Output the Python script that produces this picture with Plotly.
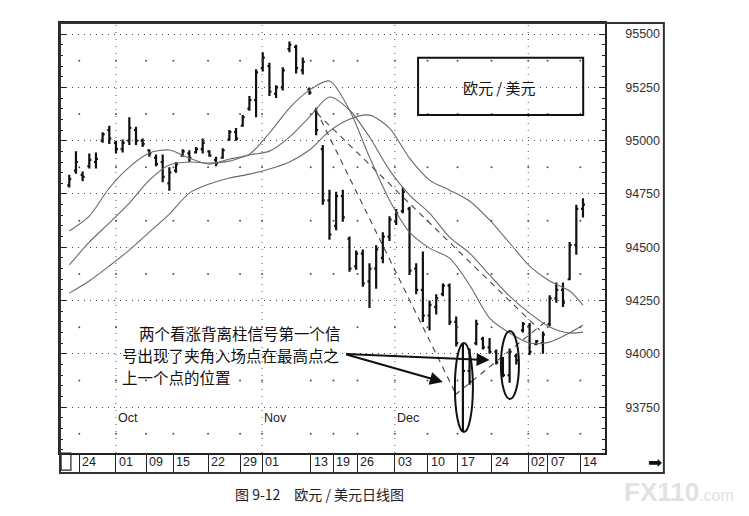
import plotly.graph_objects as go

# ---------------- data ----------------
bar_index = list(range(78))
high = [94840, 94950, 94855, 94940, 94945, 95040, 95070, 95000, 95005, 95110,
        95065, 95010, 94960, 94935, 94935, 94875, 94900, 94960, 94955, 94970,
        95010, 94955, 94925, 94965, 95050, 95060, 95120, 95210, 95335, 95415,
        95365, 95260, 95345, 95465, 95450, 95390, 95250, 95155, 94980, 94770,
        94760, 94770, 94550, 94485, 94490, 94425, 94510, 94570, 94645, 94680,
        94780, 94690, 94425, 94480, 94250, 94280, 94330, 94330, 94175, 94050,
        94025, 94160, 94080, 94075, 94020, 93985, 94025, 94000, 94150, 94145,
        94065, 94105, 94275, 94335, 94335, 94525, 94700, 94730]
low = [94780, 94845, 94810, 94870, 94870, 94990, 94985, 94940, 94945, 94980,
       94980, 94970, 94925, 94880, 94805, 94765, 94850, 94925, 94900, 94940,
       94940, 94925, 94880, 94915, 95000, 95000, 95065, 95140, 95110, 95325,
       95210, 95200, 95235, 95415, 95315, 95310, 95215, 95025, 94700, 94535,
       94580, 94620, 94385, 94395, 94315, 94215, 94305, 94425, 94530, 94605,
       94660, 94370, 94280, 94150, 94110, 94185, 94270, 94135, 94035, 93635,
       93855, 94040, 94020, 94000, 93950, 93890, 93865, 93950, 94100, 93995,
       94040, 94000, 94130, 94240, 94220, 94345, 94465, 94640]
open_ = [94790, 94860, 94840, 94880, 94900, 95000, 95050, 94990, 94960, 95000,
         95050, 95000, 94955, 94920, 94900, 94800, 94860, 94930, 94940, 94945,
         94960, 94950, 94910, 94920, 95005, 95040, 95070, 95150, 95190, 95340,
         95350, 95220, 95250, 95430, 95440, 95330, 95240, 95140, 94960, 94720,
         94600, 94740, 94540, 94410, 94470, 94340, 94400, 94450, 94550, 94620,
         94670, 94680, 94400, 94300, 94180, 94220, 94280, 94320, 94150, 94040,
         93920, 94050, 94070, 94030, 94010, 93960, 93900, 93990, 94110, 94130,
         94045, 94050, 94140, 94260, 94300, 94350, 94510, 94680]
close = [94820, 94900, 94830, 94910, 94915, 95030, 95010, 94960, 94990, 95060,
         95000, 94985, 94940, 94890, 94830, 94850, 94890, 94950, 94920, 94960,
         94990, 94930, 94895, 94955, 95040, 95010, 95110, 95190, 95320, 95390,
         95230, 95250, 95330, 95450, 95340, 95370, 95225, 95050, 94720, 94560,
         94740, 94640, 94400, 94470, 94330, 94400, 94490, 94550, 94630, 94660,
         94760, 94390, 94300, 94180, 94230, 94260, 94320, 94150, 94050, 93920,
         93870, 94140, 94030, 94010, 93960, 93900, 94010, 93970, 94140, 94010,
         94060, 94090, 94260, 94300, 94240, 94510, 94680, 94700]

ma_index = [0, 3, 6, 9, 12, 15, 18, 21, 24, 27, 30, 33, 36, 39, 42, 45, 48, 51,
            54, 57, 60, 63, 66, 69, 72, 75, 77]
ma_fast = [94576, 94646, 94778, 94876, 94942, 94956, 94918, 94890, 94914, 94937,
           95036, 95153, 95237, 95280, 95144, 94923, 94721, 94571, 94496, 94449,
           94323, 94168, 94098, 94051, 94055, 94098, 94135]
ma_mid = [94417, 94524, 94614, 94707, 94815, 94886, 94900, 94895, 94904, 94933,
          94951, 95017, 95111, 95205, 95144, 95017, 94862, 94745, 94660, 94548,
          94473, 94370, 94271, 94191, 94126, 94098, 94102]
ma_slow = [94285, 94342, 94412, 94487, 94571, 94656, 94754, 94797, 94825, 94843,
           94867, 94900, 94956, 95045, 95101, 95120, 95059, 94918, 94815, 94768,
           94717, 94628, 94520, 94412, 94342, 94295, 94229]

trend_down_steep_x = [37, 57.8]
trend_down_steep_y = [95144, 93821]
trend_down_flat_x = [37.1, 70.5]
trend_down_flat_y = [95129, 94112]
trend_up_x = [57.8, 71.3]
trend_up_y = [93807, 94149]

date_tick_pos = [1.5, 7, 11.5, 15.6, 20.8, 25.6, 28.9, 36.2, 39.6, 43.2, 48.8,
                 53.7, 58.2, 63.3, 68.8, 71.7, 76.6]
date_tick_text = ["24", "01", "09", "15", "22", "29", "01", "13", "19", "26",
                  "03", "10", "17", "24", "02", "07", "14"]
month_pos = [7, 28.9, 48.8, 68.8]
month_text = ["Oct", "Nov", "Dec", ""]
price_ticks = [93750, 94000, 94250, 94500, 94750, 95000, 95250, 95500]
price_tick_text = ["93750", "94000", "94250", "94500", "94750", "95000", "95250", "95500"]
price_mid_levels = [93625, 93875, 94125, 94375, 94625, 94875, 95125, 95375]

title_text = "欧元 / 美元"
note_lines = ["两个看涨背离柱信号第一个信", "号出现了夹角入场点在最高点之", "上一个点的位置"]
caption = "图 9-12　欧元 / 美元日线图"

# ---------------- figure ----------------
fig = go.Figure()

dot_x, dot_y = [], []
for p in price_mid_levels:
    for t in date_tick_pos:
        dot_x.append(t)
        dot_y.append(p)
fig.add_trace(go.Scatter(x=dot_x, y=dot_y, mode="markers",
                         marker=dict(size=2, color="#555"), hoverinfo="skip"))

ma_color = "#6a6a6a"
for series in (ma_slow, ma_mid, ma_fast):
    fig.add_trace(go.Scatter(x=ma_index, y=series, mode="lines",
                             line=dict(color=ma_color, width=1.1, shape="spline", smoothing=0.8),
                             hoverinfo="skip"))

for tx, ty in ((trend_down_steep_x, trend_down_steep_y),
               (trend_down_flat_x, trend_down_flat_y),
               (trend_up_x, trend_up_y)):
    fig.add_trace(go.Scatter(x=tx, y=ty, mode="lines",
                             line=dict(color="#444", width=1.1, dash="6px,5px"),
                             hoverinfo="skip"))

fig.add_trace(go.Ohlc(x=bar_index, open=open_, high=high, low=low, close=close,
                      increasing=dict(line=dict(color="#111", width=2.2)),
                      decreasing=dict(line=dict(color="#111", width=2.2)),
                      tickwidth=0.3, hoverinfo="skip"))

shapes = []
for m in month_pos:
    shapes.append(dict(type="line", xref="x", yref="paper", x0=m, x1=m, y0=0, y1=1,
                       line=dict(color="#555", width=1, dash="1px,6px"), layer="below"))
shapes.append(dict(type="circle", xref="x", yref="y", x0=57.8, x1=60.5, y0=93633, y1=94051,
                   line=dict(color="#111", width=2)))
shapes.append(dict(type="circle", xref="x", yref="y", x0=64.7, x1=67.4, y0=93788, y1=94107,
                   line=dict(color="#111", width=2)))
shapes.append(dict(type="rect", xref="paper", yref="paper", x0=0.657, x1=0.960, y0=0.786, y1=0.919,
                   line=dict(color="#111", width=2)))
shapes.append(dict(type="rect", xref="paper", yref="paper", x0=0, x1=1.108, y0=-0.0465, y1=1.0,
                   line=dict(color="#333", width=2)))
shapes.append(dict(type="rect", xref="paper", yref="paper", x0=0.002, x1=0.02, y0=-0.04, y1=0,
                   line=dict(color="#222", width=1.2)))

annotations = []
for pos, txt in zip(date_tick_pos, date_tick_text):
    annotations.append(dict(x=pos, y=-0.021, xref="x", yref="paper", text=txt, showarrow=False,
                            xanchor="left", yanchor="middle", xshift=1,
                            font=dict(family="Liberation Sans, Arial", size=12.5, color="#222")))
for pos, txt in zip(month_pos, month_text):
    if txt:
        annotations.append(dict(x=pos, y=0.081, xref="x", yref="paper", text=txt, showarrow=False,
                                xanchor="left", yanchor="middle", xshift=0,
                                font=dict(family="Liberation Sans, Arial", size=12.5, color="#222")))
annotations.append(dict(x=0.807, y=0.849, xref="paper", yref="paper", text=title_text, showarrow=False,
                        xanchor="center", yanchor="middle",
                        font=dict(family="Noto Sans CJK SC", size=15, color="#111")))
note_pos = [(0.1413, 0.279), (0.110, 0.228), (0.110, 0.177)]
for (nx, ny), line in zip(note_pos, note_lines):
    annotations.append(dict(x=nx, y=ny, xref="paper", yref="paper", text=line, showarrow=False,
                            xanchor="left", yanchor="middle",
                            font=dict(family="Noto Sans CJK SC", size=15.5, color="#111")))
annotations.append(dict(x=63.0, y=93971, xref="x", yref="y", text="", showarrow=True,
                        ax=-145, ay=-6, arrowhead=2, arrowsize=1.3, arrowwidth=2, arrowcolor="#111"))
annotations.append(dict(x=56.0, y=93868, xref="x", yref="y", text="", showarrow=True,
                        ax=-98, ay=-28, arrowhead=2, arrowsize=1.3, arrowwidth=2, arrowcolor="#111"))
annotations.append(dict(x=1.092, y=-0.021, xref="paper", yref="paper", text="➡", showarrow=False,
                        xanchor="center", yanchor="middle",
                        font=dict(family="DejaVu Sans", size=17, color="#111")))
annotations.append(dict(x=0.477, y=-0.0953, xref="paper", yref="paper", text=caption, showarrow=False,
                        xanchor="center", yanchor="middle",
                        font=dict(family="Noto Sans CJK SC", size=14, color="#222")))
annotations.append(dict(x=1.031, y=-0.0907, xref="paper", yref="paper", xanchor="left", yanchor="middle",
                        text="<b>FX110</b><span style='font-size:16px'>.com</span>", showarrow=False,
                        font=dict(family="Liberation Sans, Arial", size=26, color="#e2e2e2")))

# the page body has an 8px margin, so the figure is offset by 8px
fig.update_layout(
    width=741, height=508,
    margin=dict(l=52, r=144, t=15, b=63),
    paper_bgcolor="white", plot_bgcolor="white",
    showlegend=False,
    shapes=shapes, annotations=annotations,
    xaxis=dict(range=[-1.39, 80.3], showgrid=False, zeroline=False,
               showline=True, linecolor="#222", linewidth=1.5, mirror=True,
               tickmode="array", tickvals=date_tick_pos, ticktext=[""] * len(date_tick_pos),
               ticks="outside", ticklen=18, tickwidth=1, tickcolor="#222",
               showticklabels=False, rangeslider=dict(visible=False), fixedrange=True),
    yaxis=dict(range=[93535, 95552], side="right", zeroline=False,
               tickmode="array", tickvals=price_ticks, ticktext=price_tick_text,
               showgrid=True, gridcolor="#444", gridwidth=1, griddash="1px,5px",
               showline=True, linecolor="#222", linewidth=1.5, mirror="ticks",
               ticks="inside", ticklen=6, tickwidth=1, tickcolor="#222",
               minor=dict(dtick=50, ticks="inside", ticklen=3, tickwidth=1, tickcolor="#222", showgrid=False),
               ticklabelstandoff=16,
               tickfont=dict(family="Liberation Sans, Arial", size=12.5, color="#333"),
               fixedrange=True),
)

fig.write_html("out.html")
